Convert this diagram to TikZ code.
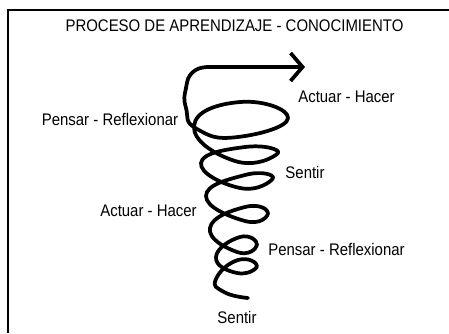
\documentclass[tikz,border=0pt]{standalone}
\usepackage{fontspec}
\setmainfont{Liberation Sans}
\usetikzlibrary{arrows.meta}

\begin{document}
\begin{tikzpicture}[x=0.75pt,y=-0.75pt,
  etiqueta/.style={anchor=base,inner sep=0pt,xscale=0.89,transform shape,font=\fontsize{12.6}{15}\selectfont},
  espiral/.style={line width=2.8pt,line cap=round,line join=round}]
  \useasboundingbox (0,0) rectangle (449,333);

% Add frame lines
    \draw[line width=0.8pt] (8,333) -- (8,10) -- (449,10);

% Add title
    \node[etiqueta] (titulo) at (234.5,31) {PROCESO DE APRENDIZAJE - CONOCIMIENTO};

% Add spiral, from the tail up to the arrow
    \coordinate (punta) at (305,67);
    \draw[espiral,-{Straight Barb[length=9pt,width=21pt]}] plot[smooth,tension=0.9] coordinates {
      (248,298) (224,292) (216,279)
      (238,260) (257,266) (237,273) (216,257)
      (240,237) (257,245) (237,252) (210,228)
      (245,207) (268,213) (245,221) (206,196)
      (245,175) (273,178) (240,188) (201,163)
      (245,147) (278,153) (235,161) (194,126)
      (240,102) (288,118) (238,137) (197,129)
      (186,108) (186,88) (193,72) (208,67)} -- (punta);

% Add labels
    \node[etiqueta] (actuar1) at (346.5,102) {Actuar - Hacer};
    \node[etiqueta] (pensar1) at (110,125) {Pensar - Reflexionar};
    \node[etiqueta] (sentir1) at (305,178) {Sentir};
    \node[etiqueta] (actuar2) at (148.5,216) {Actuar - Hacer};
    \node[etiqueta] (pensar2) at (336.5,255) {Pensar - Reflexionar};
    \node[etiqueta] (sentir2) at (237,323) {Sentir};

\end{tikzpicture}
\end{document}
